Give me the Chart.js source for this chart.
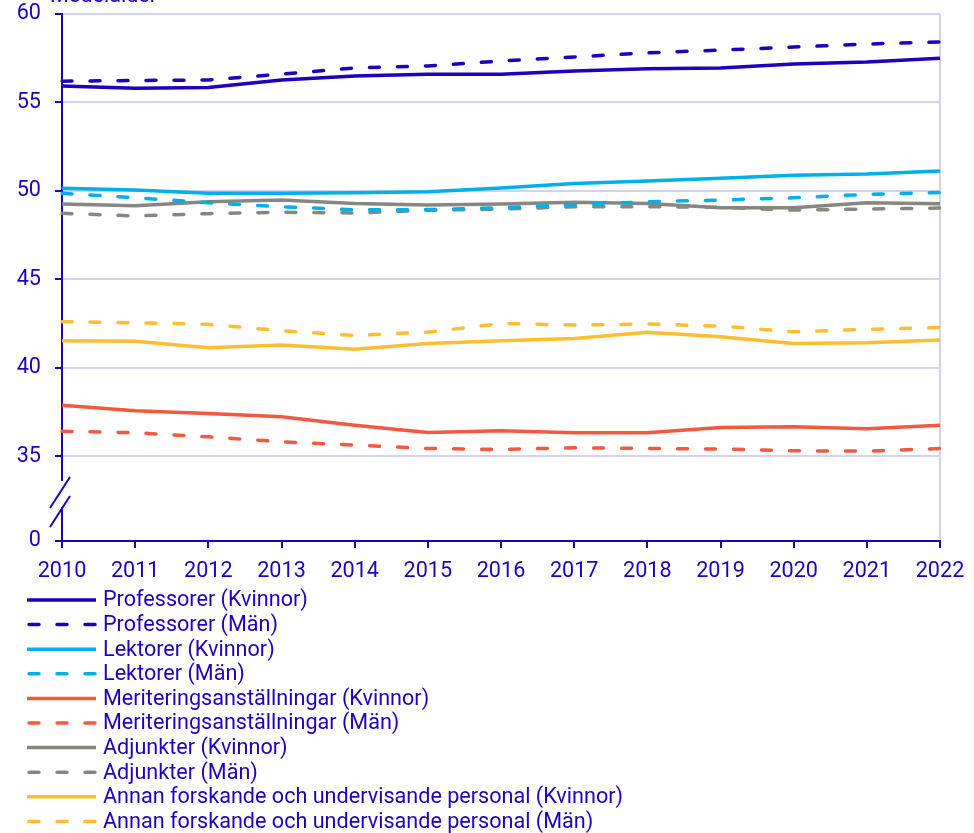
<!DOCTYPE html>
<html>
<head>
<meta charset="utf-8">
<script src="https://cdn.jsdelivr.net/npm/chart.js@4/dist/chart.umd.min.js"></script>
<style>
html,body{margin:0;padding:0;background:#fff;}
#wrap{width:974px;height:833px;position:relative;}
</style>
</head>
<body>
<div id="wrap"><canvas id="c" width="974" height="833"></canvas></div>
<script>
const years = ['2010','2011','2012','2013','2014','2015','2016','2017','2018','2019','2020','2021','2022'];
const profKvinnor = [55.93,55.80,55.85,56.27,56.50,56.60,56.60,56.78,56.90,56.95,57.17,57.28,57.50];
const profMan     = [56.20,56.24,56.27,56.60,56.95,57.06,57.34,57.57,57.80,57.96,58.13,58.30,58.42];
const lektKvinnor = [50.14,50.05,49.86,49.86,49.89,49.95,50.16,50.42,50.55,50.71,50.88,50.95,51.12];
const lektMan     = [49.86,49.61,49.33,49.10,48.93,48.94,49.05,49.22,49.38,49.48,49.61,49.80,49.91];
const meritKvinnor= [37.88,37.56,37.41,37.22,36.75,36.34,36.43,36.32,36.32,36.62,36.66,36.55,36.74];
const meritMan    = [36.41,36.32,36.09,35.81,35.62,35.43,35.38,35.47,35.43,35.40,35.30,35.28,35.43];
const adjKvinnor  = [49.25,49.16,49.38,49.48,49.29,49.20,49.25,49.35,49.29,49.04,49.04,49.33,49.27];
const adjMan      = [48.73,48.58,48.71,48.79,48.75,48.90,48.97,49.10,49.10,49.07,48.91,48.97,49.03];
const annanKvinnor= [41.52,41.50,41.13,41.28,41.05,41.37,41.52,41.65,42.00,41.75,41.37,41.41,41.56];
const annanMan    = [42.60,42.54,42.45,42.09,41.82,42.01,42.50,42.41,42.47,42.35,42.03,42.17,42.28];
const yTickValues = [30.2,35,40,45,50,55,60];
const yTickLabels = ['0','35','40','45','50','55','60'];
const axisTitle = 'Medelålder';

const TXT = '#1f00bd';
const C = {blue:'#1f00bd', light:'#00b0eb', red:'#f15a40', gray:'#878782', yellow:'#ffbd30'};
const GRID = '#d3d3ef';
const FONT = 'Roboto, "Liberation Sans", sans-serif';

function ds(label, data, color, dashed){
  return {label, data, borderColor:color, backgroundColor:color, borderWidth:3.5,
    borderDash: dashed ? [10,18] : [], borderCapStyle: dashed ? 'round':'butt',
    pointRadius:0, tension:0, fill:false};
}
const datasets = [
  ds('Professorer (Kvinnor)', profKvinnor, C.blue, false),
  ds('Professorer (Män)', profMan, C.blue, true),
  ds('Lektorer (Kvinnor)', lektKvinnor, C.light, false),
  ds('Lektorer (Män)', lektMan, C.light, true),
  ds('Meriteringsanställningar (Kvinnor)', meritKvinnor, C.red, false),
  ds('Meriteringsanställningar (Män)', meritMan, C.red, true),
  ds('Adjunkter (Kvinnor)', adjKvinnor, C.gray, false),
  ds('Adjunkter (Män)', adjMan, C.gray, true),
  ds('Annan forskande och undervisande personal (Kvinnor)', annanKvinnor, C.yellow, false),
  ds('Annan forskande och undervisande personal (Män)', annanMan, C.yellow, true)
];
const extras = {
  id:'extras',
  afterDraw(chart){
    const ctx = chart.ctx;
    const x0 = chart.chartArea.left;
    ctx.save();
    // axis break
    ctx.fillStyle = '#fff';
    ctx.fillRect(x0-2, 481, 4, 26);
    ctx.strokeStyle = TXT; ctx.lineWidth = 2;
    ctx.beginPath(); ctx.moveTo(50,508); ctx.lineTo(70,477); ctx.stroke();
    ctx.beginPath(); ctx.moveTo(50,527); ctx.lineTo(70,496); ctx.stroke();
    // top title fragment (cut off at top)
    ctx.fillStyle = TXT; ctx.font = '21.6px ' + FONT; ctx.textBaseline='alphabetic'; ctx.textAlign='left';
    ctx.fillText(axisTitle, 50, 2);
    // legend
    ctx.font = '21.6px ' + FONT; ctx.textBaseline = 'middle';
    chart.data.datasets.forEach((d,i)=>{
      const y = 600 + i*24.6;
      const dashed = d.borderDash.length > 0;
      ctx.beginPath();
      ctx.strokeStyle = d.borderColor; ctx.lineWidth = 3.5;
      ctx.setLineDash(dashed ? [10,18] : []);
      ctx.lineCap = dashed ? 'round':'butt';
      ctx.moveTo(dashed ? 29 : 27, y); ctx.lineTo(dashed ? 95 : 96, y); ctx.stroke();
      ctx.setLineDash([]);
      ctx.fillStyle = TXT;
      ctx.fillText(d.label, 103, y+1);
    });
    ctx.restore();
  }
};

new Chart(document.getElementById('c'), {
  type:'line',
  data:{labels:years, datasets},
  options:{
    responsive:false, animation:false,
    layout:{padding:{top:14,right:34,bottom:0,left:0}},
    plugins:{legend:{display:false}, tooltip:{enabled:false}},
    scales:{
      x:{
        offset:false,
        afterFit(s){ s.height = 292; s.paddingLeft = 0; s.paddingRight = 0; },
        border:{display:true, color:TXT, width:2},
        grid:{drawOnChartArea:true, lineWidth:2, tickLength:7, tickWidth:2, tickColor:TXT,
          color:(c)=> c.index === years.length-1 ? GRID : 'rgba(0,0,0,0)'},
        ticks:{color:TXT, font:{family:FONT, size:21.6}, padding:11, maxRotation:0, autoSkip:false}
      },
      y:{
        min:30.2, max:60,
        afterFit(s){ s.width = 62; s.paddingTop = 0; s.paddingBottom = 0; },
        afterBuildTicks(s){ s.ticks = yTickValues.map(v=>({value:v})); },
        border:{display:true, color:TXT, width:2},
        grid:{lineWidth:2, tickLength:7, tickWidth:2, tickColor:TXT,
          color:(c)=> c.tick && c.tick.value === 30.2 ? 'rgba(0,0,0,0)' : GRID},
        ticks:{color:TXT, font:{family:FONT, size:21.6}, padding:14,
          callback:(v,i)=> yTickLabels[i]}
      }
    }
  },
  plugins:[extras]
});
</script>
</body>
</html>
